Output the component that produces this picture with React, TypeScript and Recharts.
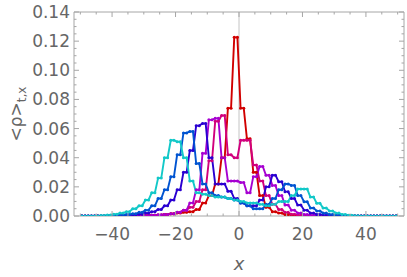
import React from 'react';
import { LineChart, Line, XAxis, YAxis, ReferenceLine } from 'recharts';

// centre of each pair of lattice sites (both sites of a pair share one value)
const pairX = [
  -49, -47, -45, -43, -41, -39, -37, -35, -33, -31,
  -29, -27, -25, -23, -21, -19, -17, -15, -13, -11,
  -9, -7, -5, -3, -1, 1, 3, 5, 7, 9,
  11, 13, 15, 17, 19, 21, 23, 25, 27, 29,
  31, 33, 35, 37, 39, 41, 43, 45, 47, 49,
];

const red = [
  0, 0, 0, 0, 0, 0, 0, 0, 0, 0.0002,
  0.0003, 0.0005, 0.0007, 0.001, 0.0015, 0.002, 0.0025, 0.003, 0.0045, 0.009,
  0.014, 0.022, 0.04, 0.074, 0.1226, 0.074, 0.053, 0.03, 0.014, 0.006,
  0.003, 0.002, 0.001, 0.0005, 0.0002, 0, 0, 0, 0, 0,
  0, 0, 0, 0, 0, 0, 0, 0, 0, 0,
];
const crimson = [
  0, 0, 0, 0, 0, 0, 0, 0, 0.0001, 0.0002,
  0.0003, 0.0005, 0.0007, 0.001, 0.0015, 0.0025, 0.004, 0.006, 0.01, 0.018,
  0.038, 0.065, 0.069, 0.042, 0.04, 0.052, 0.052, 0.035, 0.024, 0.014,
  0.008, 0.0045, 0.0025, 0.0012, 0.0006, 0.0003, 0.0001, 0, 0, 0,
  0, 0, 0, 0, 0, 0, 0, 0, 0, 0,
];
const purple = [
  0, 0, 0, 0, 0, 0, 0, 0.0001, 0.0002, 0.0003,
  0.0004, 0.0006, 0.0008, 0.001, 0.0015, 0.0025, 0.004, 0.009, 0.018, 0.043,
  0.066, 0.067, 0.04, 0.024, 0.024, 0.023, 0.016, 0.027, 0.034, 0.028,
  0.021, 0.014, 0.0075, 0.004, 0.002, 0.001, 0.0005, 0.0002, 0, 0,
  0, 0, 0, 0, 0, 0, 0, 0, 0, 0,
];
const indigo = [
  0, 0, 0, 0, 0, 0, 0.0002, 0.0004, 0.0007, 0.0012,
  0.002, 0.003, 0.0045, 0.007, 0.011, 0.018, 0.03, 0.045, 0.062, 0.0635,
  0.04, 0.022, 0.022, 0.017, 0.012, 0.009, 0.007, 0.007, 0.011, 0.02,
  0.028, 0.0235, 0.0167, 0.012, 0.0075, 0.004, 0.002, 0.001, 0.0005, 0.0002,
  0, 0, 0, 0, 0, 0, 0, 0, 0, 0,
];
const blue = [
  0, 0, 0, 0, 0.0002, 0.0003, 0.0005, 0.001, 0.0015, 0.0025,
  0.004, 0.007, 0.012, 0.018, 0.027, 0.042, 0.057, 0.058, 0.036, 0.022,
  0.016, 0.014, 0.013, 0.012, 0.011, 0.009, 0.007, 0.005, 0.005, 0.008,
  0.012, 0.018, 0.022, 0.021, 0.014, 0.0098, 0.0055, 0.0035, 0.002, 0.001,
  0.0005, 0.0002, 0, 0, 0, 0, 0, 0, 0, 0,
];
const cyan = [
  0, 0, 0, 0.0003, 0.0007, 0.0012, 0.002, 0.003, 0.005, 0.007,
  0.011, 0.016, 0.026, 0.04, 0.052, 0.051, 0.04, 0.024, 0.016, 0.015,
  0.014, 0.013, 0.013, 0.012, 0.011, 0.01, 0.009, 0.009, 0.008, 0.007,
  0.008, 0.01, 0.01, 0.014, 0.0185, 0.0185, 0.013, 0.0087, 0.0055, 0.0035,
  0.002, 0.001, 0.0005, 0.0002, 0, 0, 0, 0, 0, 0,
];

const seriesList = [red, crimson, purple, indigo, blue, cyan];
const colors = ['#d10000', '#d1007d', '#a600d1', '#2a00d1', '#0054d1', '#12c8c8'];

const xTicks = [-50, -45, -40, -35, -30, -25, -20, -15, -10, -5, 0, 5, 10, 15, 20, 25, 30, 35, 40, 45, 50];
const xLabels = [-40, -20, 0, 20, 40];
const yTicks = [
  0, 0.005, 0.01, 0.015, 0.02, 0.025, 0.03, 0.035, 0.04, 0.045, 0.05, 0.055, 0.06, 0.065, 0.07,
  0.075, 0.08, 0.085, 0.09, 0.095, 0.1, 0.105, 0.11, 0.115, 0.12, 0.125, 0.13, 0.135, 0.14,
];
const yLabels = [0, 0.02, 0.04, 0.06, 0.08, 0.1, 0.12, 0.14];

// two points per pair, one row per point
const data: any[] = [];
pairX.forEach((c, i) => {
  [c - 0.5, c + 0.5].forEach((x) => {
    const row: any = { x };
    seriesList.forEach((s, k) => {
      row['s' + k] = s[i];
    });
    data.push(row);
  });
});

const frame = '#a6a6a6';
const textColor = '#666666';
const font = '"DejaVu Sans", sans-serif';

const isMajor = (list: number[], v: number) => list.some((m) => Math.abs(m - v) < 1e-9);

const fmtX = (v: number) => (v < 0 ? '\u2212' + Math.abs(v) : String(v));

const BottomTick = (props: any) => {
  const { x, y, payload } = props;
  const major = isMajor(xLabels, payload.value);
  return (
    <g>
      <line x1={x} x2={x} y1={y} y2={y - (major ? 5 : 2.5)} stroke={frame} />
      {major && (
        <text x={x} y={y + 24} textAnchor="middle" fill={textColor} fontSize={17} fontFamily={font}>
          {fmtX(payload.value)}
        </text>
      )}
    </g>
  );
};

const TopTick = (props: any) => {
  const { x, y, payload } = props;
  const major = isMajor(xLabels, payload.value);
  return <line x1={x} x2={x} y1={y} y2={y + (major ? 5 : 2.5)} stroke={frame} />;
};

const LeftTick = (props: any) => {
  const { x, y, payload } = props;
  const major = isMajor(yLabels, payload.value);
  return (
    <g>
      <line x1={x} x2={x + (major ? 5 : 2.5)} y1={y} y2={y} stroke={frame} />
      {major && (
        <text x={x - 4} y={y + 6} textAnchor="end" fill={textColor} fontSize={17} fontFamily={font}>
          {payload.value.toFixed(2)}
        </text>
      )}
    </g>
  );
};

const RightTick = (props: any) => {
  const { x, y, payload } = props;
  const major = isMajor(yLabels, payload.value);
  return <line x1={x} x2={x - (major ? 5 : 2.5)} y1={y} y2={y} stroke={frame} />;
};

export default function App() {
  return (
    <div style={{ position: 'absolute', left: 0, top: 0, width: 407, height: 277, background: '#fff' }}>
      <LineChart width={407} height={277} data={data} margin={{ top: 2, right: 0, bottom: 0, left: 0 }}>
        <XAxis
          dataKey="x"
          type="number"
          domain={[-52, 52]}
          allowDataOverflow
          ticks={xTicks}
          interval={0}
          height={61}
          tickSize={0}
          tickMargin={0}
          axisLine={{ stroke: frame }}
          tickLine={false}
          tick={<BottomTick />}
        />
        <XAxis
          xAxisId="top"
          orientation="top"
          dataKey="x"
          type="number"
          domain={[-52, 52]}
          allowDataOverflow
          ticks={xTicks}
          interval={0}
          height={10}
          tickSize={0}
          tickMargin={0}
          axisLine={{ stroke: frame }}
          tickLine={false}
          tick={<TopTick />}
        />
        <YAxis
          type="number"
          domain={[0, 0.14]}
          allowDataOverflow
          ticks={yTicks}
          interval={0}
          width={74}
          tickSize={0}
          tickMargin={0}
          axisLine={{ stroke: frame }}
          tickLine={false}
          tick={<LeftTick />}
        />
        <YAxis
          yAxisId="right"
          orientation="right"
          type="number"
          domain={[0, 0.14]}
          allowDataOverflow
          ticks={yTicks}
          interval={0}
          width={3}
          tickSize={0}
          tickMargin={0}
          axisLine={{ stroke: frame }}
          tickLine={false}
          tick={<RightTick />}
        />
        <ReferenceLine x={0} stroke="#c4c4c4" strokeWidth={1} />
        {seriesList.map((_, k) => (
          <Line
            key={k}
            type="linear"
            dataKey={'s' + k}
            stroke={colors[k]}
            strokeWidth={1.9}
            dot={{ r: 1.5, fill: colors[k], stroke: 'none' }}
            isAnimationActive={false}
          />
        ))}
      </LineChart>
      <svg width={407} height={277} style={{ position: 'absolute', left: 0, top: 0, pointerEvents: 'none' }}>
        <text
          transform="translate(22,114) rotate(-90)"
          textAnchor="middle"
          fill={textColor}
          fontSize={17}
          fontFamily={font}
        >
          {'<\u03C1>'}
          <tspan fontSize={12} dy={4}>t,x</tspan>
        </text>
        <text x={239} y={270} textAnchor="middle" fill={textColor} fontSize={18} fontStyle="italic" fontFamily={font}>
          x
        </text>
      </svg>
    </div>
  );
}
